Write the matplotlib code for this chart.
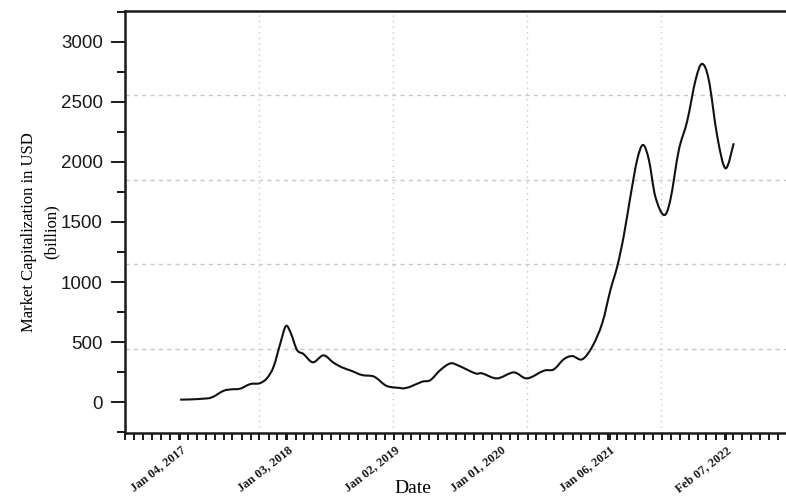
import matplotlib
matplotlib.use("Agg")
import matplotlib.pyplot as plt
import matplotlib.dates as mdates
from matplotlib.path import Path
from matplotlib.patches import PathPatch
import numpy as np
import pandas as pd
from matplotlib.ticker import MultipleLocator

# Total market capitalization (billion USD)
dates = [
    "2017-01-04", "2017-02-07", "2017-03-24", "2017-04-22", "2017-06-01",
    "2017-06-29", "2017-07-27", "2017-08-31", "2017-10-01", "2017-10-26",
    "2017-11-18", "2017-12-11", "2017-12-30", "2018-01-16", "2018-02-06",
    "2018-02-28", "2018-04-01", "2018-05-07", "2018-06-10", "2018-07-09",
    "2018-08-12", "2018-09-15", "2018-10-19", "2018-11-05", "2018-12-09",
    "2019-01-24", "2019-02-04", "2019-02-27", "2019-04-07", "2019-05-06",
    "2019-06-09", "2019-07-13", "2019-08-10", "2019-10-06", "2019-10-29",
    "2019-12-19", "2020-02-14", "2020-03-30", "2020-05-26", "2020-06-29",
    "2020-08-02", "2020-08-31", "2020-10-04", "2020-11-07", "2020-12-11",
    "2021-01-08", "2021-01-31", "2021-02-22", "2021-03-17", "2021-04-09",
    "2021-04-29", "2021-05-19", "2021-06-10", "2021-07-09", "2021-07-31",
    "2021-08-29", "2021-09-26", "2021-10-25", "2021-11-16", "2021-12-09",
    "2022-01-07", "2022-02-04", "2022-03-04",
]
market_cap = [
    20, 22, 28, 39, 94,
    106, 111, 150, 156, 197,
    294, 489, 633, 572, 433,
    400, 331, 389, 328, 289,
    258, 225, 217, 197, 133,
    117, 114, 128, 169, 183,
    267, 322, 303, 239, 239,
    197, 247, 197, 261, 272,
    356, 383, 356, 461, 656,
    933, 1128, 1378, 1711, 2017,
    2142, 2017, 1711, 1558, 1683,
    2100, 2336, 2683, 2817, 2683,
    2211, 1947, 2156,
]

tick_dates = ["2017-01-04", "2018-01-03", "2019-01-02", "2020-01-01",
              "2021-01-06", "2022-02-07"]
tick_labels = ["Jan 04, 2017", "Jan 03, 2018", "Jan 02, 2019", "Jan 01, 2020",
               "Jan 06, 2021", "Feb 07, 2022"]
y_ticks = [0, 500, 1000, 1500, 2000, 2500, 3000]


def smooth_path(xs, ys):
    """Catmull-Rom curve through the points, expressed as cubic Bezier segments."""
    p = np.column_stack([xs, ys]).astype(float)
    ext = np.vstack([p[0], p, p[-1]])
    verts = [p[0]]
    codes = [Path.MOVETO]
    for i in range(1, len(ext) - 2):
        p0, p1, p2, p3 = ext[i - 1], ext[i], ext[i + 1], ext[i + 2]
        c1 = p1 + (p2 - p0) / 6.0
        c2 = p2 - (p3 - p1) / 6.0
        verts += [c1, c2, p2]
        codes += [Path.CURVE4] * 3
    return Path(verts, codes)


x = pd.to_datetime(dates)
xnum = mdates.date2num(x)

fig = plt.figure(figsize=(7.86, 4.98), dpi=100)
ax = fig.add_axes([0.159, 0.1305, 0.853, 0.8475])

curve = PathPatch(smooth_path(xnum, market_cap), facecolor="none",
                  edgecolor="#111111", lw=1.5, zorder=3)
ax.add_patch(curve)
ax.xaxis_date()

ax.set_xlim(pd.Timestamp("2016-06-30"), pd.Timestamp("2022-09-30"))
ax.set_ylim(-258, 3258)

# grid dividing the plot area into equal fifths
for f in [0.2, 0.4, 0.6, 0.8]:
    ax.plot([f, f], [0, 1], transform=ax.transAxes, color="#c8c8c8",
            lw=1.0, ls=(0, (1, 3)), zorder=1)
    ax.plot([0, 1], [f, f], transform=ax.transAxes, color="#c8c8c8",
            lw=1.0, ls=(0, (3, 3)), zorder=1)

# y axis
ax.set_yticks(y_ticks)
ax.yaxis.set_minor_locator(MultipleLocator(250))
ax.tick_params(axis="y", which="major", direction="out", length=10, width=1.4,
               labelsize=13.5, pad=6, colors="#1a1a1a")
ax.tick_params(axis="y", which="minor", direction="out", length=6, width=1.4,
               colors="#1a1a1a")
for lab in ax.get_yticklabels():
    lab.set_fontfamily("Liberation Sans")

# x axis
ax.set_xticks(pd.to_datetime(tick_dates))
ax.set_xticklabels(tick_labels, rotation=38, ha="right", rotation_mode="anchor",
                   fontfamily="Liberation Serif", fontweight="bold", fontsize=9)
ax.xaxis.set_minor_locator(mdates.MonthLocator())
ax.tick_params(axis="x", which="both", direction="out", length=5, width=1.4,
               pad=3, colors="#1a1a1a")

for side in ["left", "bottom", "top", "right"]:
    ax.spines[side].set_linewidth(1.8)
    ax.spines[side].set_color("#1a1a1a")

ax.set_ylabel("Market Capitalization in USD\n(billion)",
              fontfamily="Liberation Serif", fontsize=12, linespacing=1.55)
ax.yaxis.set_label_coords(-0.097, 0.476)
ax.set_xlabel("Date", fontfamily="Liberation Serif", fontsize=14)
ax.xaxis.set_label_coords(0.43, -0.112)

fig.savefig("out.png", dpi=100)
